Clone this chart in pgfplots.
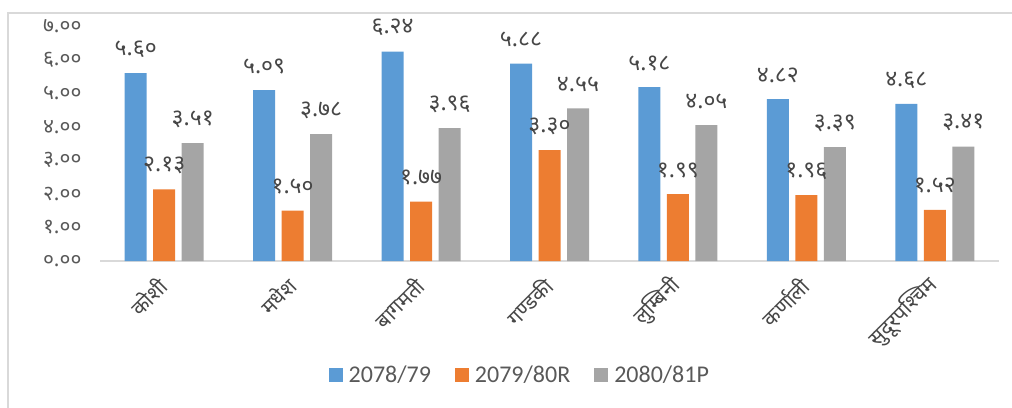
\documentclass[border=0pt]{standalone}
\usepackage{fontspec}
\setmainfont{Carlito}
\newfontfamily\dev[Script=Devanagari]{Noto Sans}
\usepackage{pgfplots}
\pgfplotsset{compat=1.18}
\definecolor{cblue}{HTML}{5B9BD5}
\definecolor{corange}{HTML}{ED7D31}
\definecolor{cgray}{HTML}{A5A5A5}
\definecolor{txt}{HTML}{595959}
\definecolor{framec}{HTML}{D9D9D9}
\begin{document}
\begin{tikzpicture}
\path[use as bounding box] (0,0) rectangle (1012pt,407pt);
\draw[framec, line width=1.5pt] (8pt,-10pt) -- (8pt,394pt) -- (1030pt,394pt);
\begin{axis}[
  at={(100pt,146pt)}, anchor=south west,
  scale only axis, width=899pt, height=235pt,
  ybar=6.5pt, bar width=22pt,
  xmin=-0.5, xmax=6.5, ymin=0, ymax=7,
  xtick={0,...,6},
  xticklabels={कोशी, मधेश, बागमती, गण्डकी, लुम्बिनी, कर्णाली, सुदूरपश्चिम},
  ytick={0,...,7},
  yticklabels={०.००,१.००,२.००,३.००,४.००,५.००,६.००,७.००},
  major tick length=0pt,
  axis lines*=left,
  y axis line style={draw=none},
  x axis line style={draw=framec, line width=1.5pt},
  yticklabel style={font=\dev\fontsize{21}{23}\selectfont, text=txt, xshift=-15pt},
  xticklabel style={font=\dev\fontsize{21}{23}\selectfont, text=txt!80!black, rotate=45, anchor=east, xshift=-12pt, yshift=-14pt},
  clip=false,
  point meta=explicit symbolic,
  nodes near coords,
  every node near coord/.append style={font=\dev\fontsize{23}{25}\selectfont, text=txt!80!black, anchor=center, yshift=24pt},
  legend style={at={(0.467,-0.485)}, anchor=center, draw=none, fill=none,
    legend columns=3, font=\fontsize{24}{27}\selectfont, text=txt,
    /tikz/every odd column/.append style={column sep=4pt},
    /tikz/every even column/.append style={column sep=22pt}},
  legend image code/.code={\fill[#1] (0pt,-7pt) rectangle (14pt,7pt);},
]
\addplot[fill=cblue, draw=none] coordinates {
  (0,5.60) [५.६०] (1,5.09) [५.०९] (2,6.24) [६.२४] (3,5.88) [५.८८]
  (4,5.18) [५.१८] (5,4.82) [४.८२] (6,4.68) [४.६८]};
\addlegendentry{2078/79}
\addplot[fill=corange, draw=none] coordinates {
  (0,2.13) [२.१३] (1,1.50) [१.५०] (2,1.77) [१.७७] (3,3.30) [३.३०]
  (4,1.99) [१.९९] (5,1.96) [१.९६] (6,1.52) [१.५२]};
\addlegendentry{2079/80R}
\addplot[fill=cgray, draw=none] coordinates {
  (0,3.51) [३.५१] (1,3.78) [३.७८] (2,3.96) [३.९६] (3,4.55) [४.५५]
  (4,4.05) [४.०५] (5,3.39) [३.३९] (6,3.41) [३.४१]};
\addlegendentry{2080/81P}
\end{axis}
\end{tikzpicture}
\end{document}
